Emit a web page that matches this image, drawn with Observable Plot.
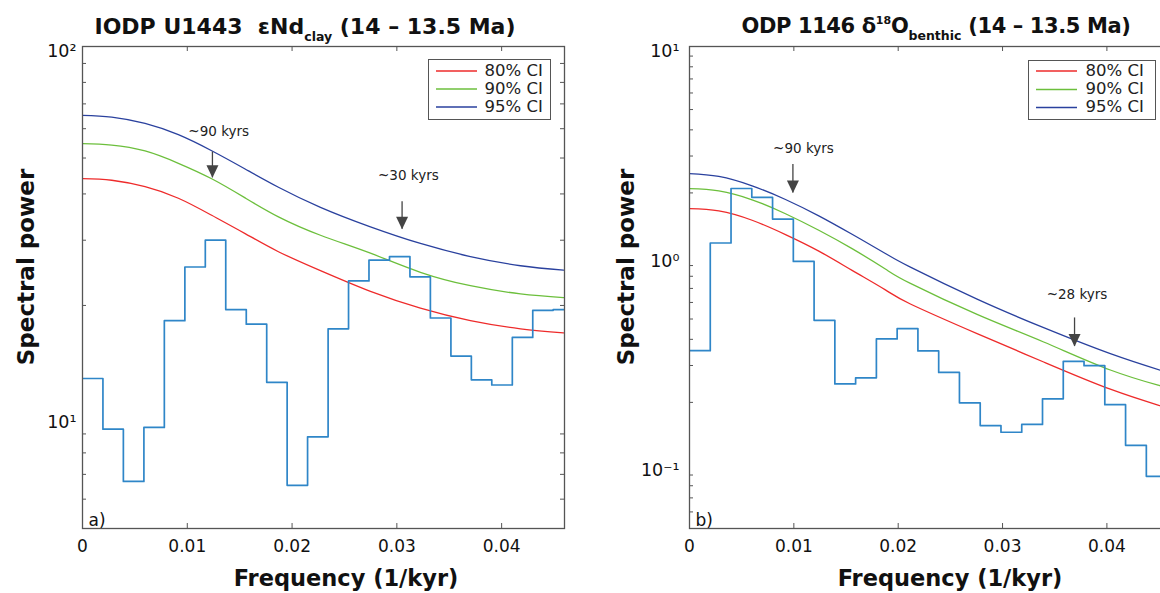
<!DOCTYPE html>
<html>
<head>
<meta charset="utf-8">
<script src="https://cdn.jsdelivr.net/npm/d3@7"></script>
<script src="https://cdn.jsdelivr.net/npm/@observablehq/plot@0.6"></script>
<style>
  body { margin: 0; background: #fff; }
  #wrap { position: relative; width: 1160px; height: 593px; overflow: hidden; font-family: "DejaVu Sans", sans-serif; color: #111; }
  .panel { position: absolute; top: 0; }
  .title { position: absolute; top: 15px; font-weight: bold; font-size: 22px; line-height: 23px; white-space: nowrap; transform: translateX(-50%); }
  .title.t2 { font-size: 21px; letter-spacing: -0.4px; }
  .title .sub { font-size: 12.5px; position: relative; top: 7px; letter-spacing: 0; }
  .title .sup { font-size: 11px; position: relative; top: -9px; letter-spacing: 0; }
  .ylab { position: absolute; font-weight: bold; font-size: 23px; line-height: 23px; white-space: nowrap; transform: translate(-50%, -50%) rotate(-90deg); }
  .xlab { position: absolute; top: 567px; font-weight: bold; font-size: 22.5px; line-height: 22px; white-space: nowrap; transform: translateX(-50%); }
  .legend { position: absolute; border: 1.3px solid #555; background: #fff; box-sizing: border-box; }
  .legend svg { position: absolute; left: 0; top: 0; }
  .legend .tx { position: absolute; font-size: 16.5px; line-height: 18px; color: #222; white-space: nowrap; }
</style>
</head>
<body>
<div id="wrap"></div>
<script>
// ---------- data ----------
const xTicks = [0, 0.01, 0.02, 0.03, 0.04];
const xTickLabels = ["0", "0.01", "0.02", "0.03", "0.04"];
const ciLabels = ["80% CI", "90% CI", "95% CI"];

// Panel a) IODP U1443 εNd clay
const yTicksA = [10, 100];
const yTickLabelsA = ["10¹", "10²"];
const yMinorA = [6, 7, 8, 9, 20, 30, 40, 50, 60, 70, 80, 90];
const freqA = [0, 0.00195, 0.0039, 0.00586, 0.00781, 0.00977, 0.01172, 0.01367, 0.01563, 0.01758, 0.01953, 0.02148, 0.02344, 0.02539, 0.02734, 0.0293, 0.03125, 0.0332, 0.03516, 0.03711, 0.03906, 0.04102, 0.04297, 0.04492, 0.04688];
const powerA = [12.7, 9.27, 6.7, 9.37, 18.2, 25.4, 30.0, 19.5, 17.8, 12.4, 6.54, 8.84, 17.3, 23.3, 26.5, 27.1, 23.9, 18.5, 14.6, 12.6, 12.2, 16.4, 19.4, 19.5, 19.5];
const ciFreqA = [0, 0.00279, 0.00597, 0.00915, 0.01233, 0.01552, 0.0187, 0.02271, 0.02748, 0.03225, 0.03702, 0.0418, 0.0459];
const ci80A = [44.0, 43.55, 41.83, 38.94, 35.03, 31.26, 27.93, 24.83, 21.83, 19.67, 18.20, 17.30, 16.87];
const ci90A = [54.68, 54.2, 52.24, 48.39, 43.95, 39.02, 34.69, 30.94, 27.67, 24.58, 22.61, 21.49, 21.01];
const ci95A = [65.2, 64.5, 62.0, 57.8, 52.3, 46.7, 41.7, 36.8, 32.6, 29.4, 27.1, 25.6, 24.9];
const annoLabelA = ["~90 kyrs", "~30 kyrs"];
const annoFreqA = [0.0124, 0.0305];
const annoTextFreqA = [0.0130, 0.0311];
const annoTextPowA = [59.0, 44.9];
const annoTopA = [51.9, 38.1];
const annoTipA = [44.2, 32.1];

// Panel b) ODP 1146 δ18O benthic
const yTicksB = [0.1, 1, 10];
const yTickLabelsB = ["10⁻¹", "10⁰", "10¹"];
const yMinorB = [0.06, 0.07, 0.08, 0.09, 0.2, 0.3, 0.4, 0.5, 0.6, 0.7, 0.8, 0.9, 2, 3, 4, 5, 6, 7, 8, 9];
const freqB = [0, 0.00199, 0.00398, 0.00597, 0.00796, 0.00995, 0.01194, 0.01393, 0.01592, 0.01791, 0.0199, 0.02189, 0.02388, 0.02587, 0.02786, 0.02985, 0.03184, 0.03383, 0.03582, 0.03781, 0.0398, 0.04179, 0.04378, 0.04577];
const powerB = [0.353, 1.153, 2.10, 1.905, 1.50, 0.942, 0.493, 0.245, 0.262, 0.402, 0.450, 0.352, 0.278, 0.199, 0.155, 0.144, 0.157, 0.208, 0.314, 0.2995, 0.195, 0.1247, 0.0887, 0.0887];
const ciFreqB = [0, 0.00281, 0.0060, 0.0092, 0.01239, 0.01558, 0.01877, 0.02117, 0.02756, 0.03394, 0.04033, 0.04511, 0.04598];
const ci80B = [1.682, 1.641, 1.481, 1.265, 1.055, 0.854, 0.689, 0.590, 0.426, 0.3118, 0.2312, 0.1928, 0.1867];
const ci90B = [2.095, 2.044, 1.854, 1.591, 1.327, 1.084, 0.866, 0.7396, 0.526, 0.3884, 0.2855, 0.2401, 0.2326];
const ci95B = [2.471, 2.396, 2.161, 1.861, 1.554, 1.269, 1.028, 0.884, 0.622, 0.4547, 0.3417, 0.285, 0.2763];
const annoLabelB = ["~90 kyrs", "~28 kyrs"];
const annoFreqB = [0.00991, 0.0369];
const annoTextFreqB = [0.01092, 0.03714];
const annoTextPowB = [3.27, 0.651];
const annoTopB = [2.73, 0.506];
const annoTipB = [2.0, 0.370];

// ---------- styles ----------
const COL_STEP = "#2f86c8";
const COL_CI = ["#ee2b2b", "#6cbf3c", "#2a419e"];
const AXIS = "#555";
const ANNO = "#444";

const downTriangle = {
  draw(ctx) { ctx.moveTo(0, 0); ctx.lineTo(-6, -12.5); ctx.lineTo(6, -12.5); ctx.closePath(); }
};

function panel(cfg) {
  const W = cfg.width, H = 593;
  const mT = 46, mB = 65;
  const fw = W - cfg.mL - cfg.mR, fh = H - mT - mB;
  const xFmt = new Map(xTicks.map((d, i) => [d, xTickLabels[i]]));
  const yFmt = new Map(cfg.yTicks.map((d, i) => [d, cfg.yTickLabels[i]]));
  const steps = cfg.freq.map((f, i) => ({f, p: cfg.power[i]}));
  const ci = [];
  cfg.ciFreq.forEach((f, i) => {
    ci.push({f, p: cfg.ci80[i], s: ciLabels[0]});
    ci.push({f, p: cfg.ci90[i], s: ciLabels[1]});
    ci.push({f, p: cfg.ci95[i], s: ciLabels[2]});
  });
  const anno = cfg.annoLabel.map((t, i) => ({t, f: cfg.annoFreq[i], tf: cfg.annoTextFreq[i], tp: cfg.annoTextPow[i], top: cfg.annoTop[i], tip: cfg.annoTip[i]}));
  return Plot.plot({
    width: W, height: H,
    marginLeft: cfg.mL, marginRight: cfg.mR, marginTop: mT, marginBottom: mB,
    style: {fontFamily: "DejaVu Sans, sans-serif", fontSize: "17px", color: "#111", background: "transparent", overflow: "visible"},
    x: {domain: [0, 0.046], label: null},
    y: {type: "log", domain: cfg.yDomain, label: null},
    color: {domain: ciLabels, range: COL_CI},
    marks: [
      Plot.line(ci, {x: "f", y: "p", z: "s", stroke: "s", strokeWidth: 1.3, curve: "natural", clip: true}),
      Plot.line(steps, {x: "f", y: "p", stroke: COL_STEP, strokeWidth: 1.7, curve: "step-after", clip: true}),
      Plot.ruleX(anno, {x: "f", y1: "top", y2: "tip", stroke: ANNO, strokeWidth: 1.3}),
      Plot.dot(anno, {x: "f", y: "tip", symbol: downTriangle, r: 5, fill: ANNO, stroke: null}),
      Plot.text(anno, {x: "tf", y: "tp", text: "t", fontSize: 13.5, fill: "#222"}),
      Plot.frame({stroke: AXIS, strokeWidth: 1.3}),
      Plot.tickX(xTicks, {x: d => d, insetTop: fh - 5, stroke: AXIS}),
      Plot.tickX(xTicks, {x: d => d, insetBottom: fh - 5, stroke: AXIS}),
      Plot.tickY(cfg.yMinor, {y: d => d, insetRight: fw - 4, stroke: AXIS}),
      Plot.tickY(cfg.yMinor, {y: d => d, insetLeft: fw - 4, stroke: AXIS}),
      Plot.axisX(xTicks, {tickSize: 0, tickPadding: 11, tickFormat: d => xFmt.get(d), fontSize: 17, label: null, fill: "#111"}),
      Plot.axisY(cfg.yTicks, {tickSize: 0, tickPadding: cfg.yPad, tickFormat: d => yFmt.get(d), fontSize: 17.5, dy: 5, label: null, fill: "#111"}),
      Plot.text([cfg.tag], {frameAnchor: "bottom-left", dx: 6, dy: -3, textAnchor: "start", lineAnchor: "bottom", fontSize: 17, fill: "#111"})
    ]
  });
}

const wrap = document.getElementById("wrap");

const pa = panel({width: 580, mL: 82, mR: 16, yDomain: [5, 100], yTicks: yTicksA, yTickLabels: yTickLabelsA, yMinor: yMinorA, yPad: 6,
  freq: freqA, power: powerA, ciFreq: ciFreqA, ci80: ci80A, ci90: ci90A, ci95: ci95A,
  annoLabel: annoLabelA, annoFreq: annoFreqA, annoTextFreq: annoTextFreqA, annoTextPow: annoTextPowA, annoTop: annoTopA, annoTip: annoTipA, tag: "a)"});
pa.classList.add("panel"); pa.style.left = "0px";
wrap.appendChild(pa);

const pb = panel({width: 600, mL: 109, mR: 11, yDomain: [0.05, 10], yTicks: yTicksB, yTickLabels: yTickLabelsB, yMinor: yMinorB, yPad: 10,
  freq: freqB, power: powerB, ciFreq: ciFreqB, ci80: ci80B, ci90: ci90B, ci95: ci95B,
  annoLabel: annoLabelB, annoFreq: annoFreqB, annoTextFreq: annoTextFreqB, annoTextPow: annoTextPowB, annoTop: annoTopB, annoTip: annoTipB, tag: "b)"});
pb.classList.add("panel"); pb.style.left = "580px";
wrap.appendChild(pb);

function addDiv(cls, html, css) {
  const d = document.createElement("div");
  d.className = cls; d.innerHTML = html;
  Object.assign(d.style, css);
  wrap.appendChild(d);
  return d;
}
addDiv("title", 'IODP U1443&nbsp;&nbsp;εNd<span class="sub">clay</span> (14 – 13.5 Ma)', {left: "305px"});
addDiv("title t2", 'ODP 1146 δ<span class="sup">18</span>O<span class="sub">benthic</span> (14 – 13.5 Ma)', {left: "936px"});
addDiv("ylab", "Spectral power", {left: "26px", top: "267px"});
addDiv("ylab", "Spectral power", {left: "626px", top: "267px"});
addDiv("xlab", "Frequency (1/kyr)", {left: "346px"});
addDiv("xlab", "Frequency (1/kyr)", {left: "950px"});

const SVGNS = "http://www.w3.org/2000/svg";
function legend(left, top, w, h, lineL, lineW, textL, rows) {
  const box = addDiv("legend", "", {left: left + "px", top: top + "px", width: w + "px", height: h + "px"});
  const svg = document.createElementNS(SVGNS, "svg");
  svg.setAttribute("width", w); svg.setAttribute("height", h);
  box.appendChild(svg);
  ciLabels.forEach((lab, i) => {
    const ln = document.createElementNS(SVGNS, "line");
    ln.setAttribute("x1", lineL); ln.setAttribute("x2", lineL + lineW);
    ln.setAttribute("y1", rows[i]); ln.setAttribute("y2", rows[i]);
    ln.setAttribute("stroke", COL_CI[i]); ln.setAttribute("stroke-width", 1.5);
    svg.appendChild(ln);
    const tx = document.createElement("div");
    tx.className = "tx"; tx.textContent = lab;
    Object.assign(tx.style, {left: textL + "px", top: (rows[i] - 9.5) + "px"});
    box.appendChild(tx);
  });
}
legend(428, 59, 123, 61, 7, 41, 55.5, [11, 29, 47]);
legend(1028, 60, 128, 60, 7, 41, 56.5, [10, 28.5, 46.5]);
</script>
</body>
</html>
